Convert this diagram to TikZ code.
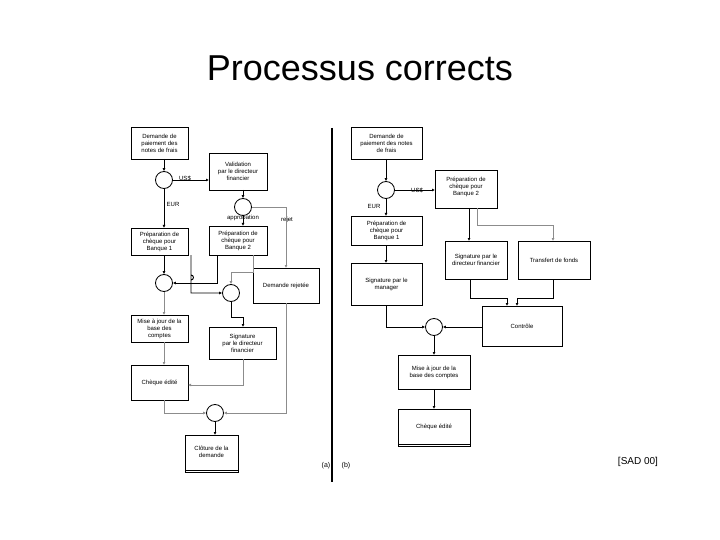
\documentclass[tikz,border=0pt]{standalone}
\usepackage{fontspec}
\setmainfont{Liberation Sans}
\usetikzlibrary{arrows.meta}
\begin{document}
\begin{tikzpicture}[x=1pt,y=-1pt,
  txt/.style={font=\fontsize{6}{7}\selectfont,align=center,inner sep=0pt},
  bx/.style={draw,line width=0.8pt},
  gbx/.style={draw,line width=0.5pt},
  circ/.style={draw,circle,minimum size=17pt,inner sep=0pt,line width=0.8pt},
  ar/.style={-{Latex[length=3pt,width=3pt]},line width=0.9pt},
  gar/.style={-{Latex[length=3pt,width=3pt]},line width=0.7pt,black!45},
  lb/.style={font=\fontsize{6}{7}\selectfont,inner sep=0pt}]
\useasboundingbox (0,0) rectangle (720,540);
\node[font=\fontsize{36}{40}\selectfont] (title) at (360,68) {Processus corrects};
\node[font=\fontsize{10}{12}\selectfont] (sad) at (638,462) {[SAD 00]};
\draw[line width=1.6pt] (332,128) coordinate (d1) -- (332,482) coordinate (d2);
\node[lb,font=\fontsize{7}{8}\selectfont] (la) at (326,466) {(a)};
\node[lb,font=\fontsize{7}{8}\selectfont] (lbb) at (346,466) {(b)};
% ---------- left (a)
\draw[bx] (131,127) rectangle (188,159); \node[txt] (a1) at (159.5,143) {Demande de\\paiement des\\notes de frais};
\node[circ] (ac1) at (164,180) {};
\draw[bx] (209,153) rectangle (267,190); \node[txt] (aval) at (238,171.5) {Validation\\par le directeur\\financier};
\node[circ] (ac2) at (243,207) {};
\draw[bx] (131,228) rectangle (188,255); \node[txt] (ap1) at (159.5,241.5) {Préparation de\\chèque pour\\Banque 1};
\draw[bx] (209,226) rectangle (267,255); \node[txt] (ap2) at (238,240.5) {Préparation de\\chèque pour\\Banque 2};
\draw[gbx] (253,268) rectangle (319,303); \node[txt] (arej) at (286,285.5) {Demande rejetée};
\node[circ] (ac3) at (164,283) {};
\node[circ] (ac4) at (231,293) {};
\draw[bx] (131,315) rectangle (188,342); \node[txt] (amaj) at (159.5,328.5) {Mise à jour de la\\base des\\comptes};
\draw[gbx] (209,327) rectangle (276,359); \node[txt] (asig) at (242.5,343) {Signature\\par le directeur\\financier};
\draw[gbx] (131,365) rectangle (188,400); \node[txt] (ach) at (159.5,382.5) {Chèque édité};
\node[circ] (ac5) at (215,413) {};
\draw[gbx] (185,435) rectangle (238,472); \draw[gbx] (185,470) -- (238,470);
\node[txt] (aclo) at (211.5,452) {Clôture de la\\demande};
\node[lb] (lus) at (185,178) {US\$};
\node[lb] (leur) at (173,204) {EUR};
\node[lb] (lapp) at (243,218) {approbation};
\node[lb] (lrej) at (287,220) {rejet};
\draw[ar] (164,159) -- (ac1);
\draw[ar] (ac1.east) -- (209,180);
\draw[ar] (ac1) -- (164,228);
\draw[ar] (243,190) -- (ac2);
\draw[ar] (ac2) -- (243,226);
\draw[gar] (ac2.east) -- (286,207) -- (286,268);
\draw[ar] (164,255) -- (ac3);
\draw[ar] (217,255) -- (217,283) -- (ac3.east);
\draw[ar] (191,255) -- (191,280) arc[start angle=90,end angle=-90,radius=2.5] -- (191,293) -- (ac4.west);
\draw[gar] (253,255) -- (253,272) -- (231,272) -- (ac4.north);
\draw[ar] (ac4.south) -- (231,317) -- (243,317) -- (243,327);
\draw[gar] (ac3) -- (164,315);
\draw[gar] (164,342) -- (164,365);
\draw[gar] (243,359) -- (243,385) -- (188,385);
\draw[gar] (164,400) -- (164,413) -- (ac5.west);
\draw[gar] (286,303) -- (286,413) -- (ac5.east);
\draw[ar] (ac5) -- (215,435);
% ---------- right (b)
\draw[gbx] (351,127) rectangle (422,159); \node[txt] (b1) at (386.5,143) {Demande de\\paiement des notes\\de frais};
\node[circ] (bc1) at (386,190) {};
\draw[bx] (435,170) rectangle (497,208); \node[txt] (bp2) at (466,187) {Préparation de\\chèque pour\\Banque 2};
\draw[bx] (351,216) rectangle (422,245); \node[txt] (bp1) at (386.5,230.5) {Préparation de\\chèque pour\\Banque 1};
\draw[bx] (351,263) rectangle (422,305); \node[txt] (bsm) at (386.5,284) {Signature par le\\manager};
\draw[bx] (445,241) rectangle (507,279); \node[txt] (bsd) at (476,260) {Signature par le\\directeur financier};
\draw[bx] (518,241) rectangle (590,279); \node[txt] (btr) at (554,260) {Transfert de fonds};
\draw[bx] (482,306) rectangle (562,346); \node[txt] (bco) at (522,326) {Contrôle};
\node[circ] (bc2) at (434,327) {};
\draw[gbx] (398,355) rectangle (470,389); \node[txt] (bmaj) at (434,372) {Mise à jour de la\\base des comptes};
\draw[gbx] (398,409) rectangle (470,446); \draw[gbx] (398,444) -- (470,444);
\node[txt] (bch) at (434,427) {Chèque édité};
\node[lb] (bus) at (417,190) {US\$};
\node[lb] (beur) at (374,206) {EUR};
\draw[ar] (386,159) -- (bc1);
\draw[ar] (bc1.east) -- (435,190);
\draw[ar] (bc1) -- (386,216);
\draw[ar] (386,245) -- (386,263);
\draw[ar] (469,208) -- (469,241);
\draw[gar] (477,208) -- (477,225) -- (553,225) -- (553,241);
\draw[ar] (470,279) -- (470,298) -- (507,298) -- (507,306);
\draw[ar] (553,279) -- (553,298) -- (517,298) -- (517,306);
\draw[ar] (386,305) -- (386,327) -- (bc2.west);
\draw[ar] (482,327) -- (bc2.east);
\draw[ar] (bc2) -- (434,355);
\draw[ar] (434,389) -- (434,409);
\end{tikzpicture}
\end{document}
